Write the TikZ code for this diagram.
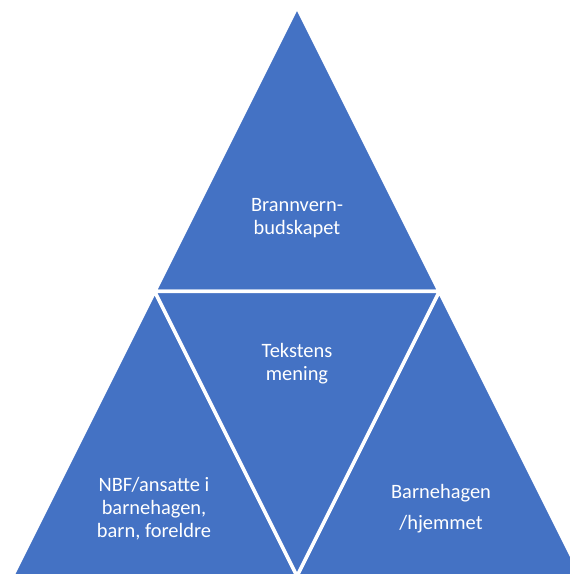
\documentclass[tikz,border=0pt]{standalone}
\usepackage{fontspec}
\setmainfont{Carlito}
\definecolor{segblue}{HTML}{4472C4}

\tikzset{
    segment/.style={fill=segblue, draw=white, line width=3.5bp, line join=miter},
    segtext/.style={text=white, align=center, font=\fontsize{20.5}{23}\selectfont}
}

\begin{document}
\begin{tikzpicture}[x=1bp, y=1bp]
        \useasboundingbox (0, 0) rectangle (570, 576);
        \clip (0, 0) rectangle (570, 576);

        % corners of the pyramid and the midpoints of its sides
        \coordinate (apex) at (297, 569);
        \coordinate (bl) at (12.5, 0);
        \coordinate (br) at (581.5, 0);
        \coordinate (ml) at (154.75, 284.5);
        \coordinate (mr) at (439.25, 284.5);
        \coordinate (mb) at (297, 0);

        % four segments
        \draw[segment] (apex) -- (ml) -- (mr) -- cycle;
        \draw[segment] (ml) -- (bl) -- (mb) -- cycle;
        \draw[segment] (mr) -- (mb) -- (br) -- cycle;
        \draw[segment] (ml) -- (mr) -- (mb) -- cycle;

        \node[segtext] (top) at (297, 358) {Brannvern-\\budskapet};
        \node[segtext] (middle) at (297, 212) {Tekstens\\mening};
        \node[segtext] (left) at (154, 67) {NBF/ansatte i\\barnehagen,\\barn, foreldre};
        \node[segtext] (right) at (441, 67) {Barnehagen\\[8bp]/hjemmet};
    \end{tikzpicture}
\end{document}
